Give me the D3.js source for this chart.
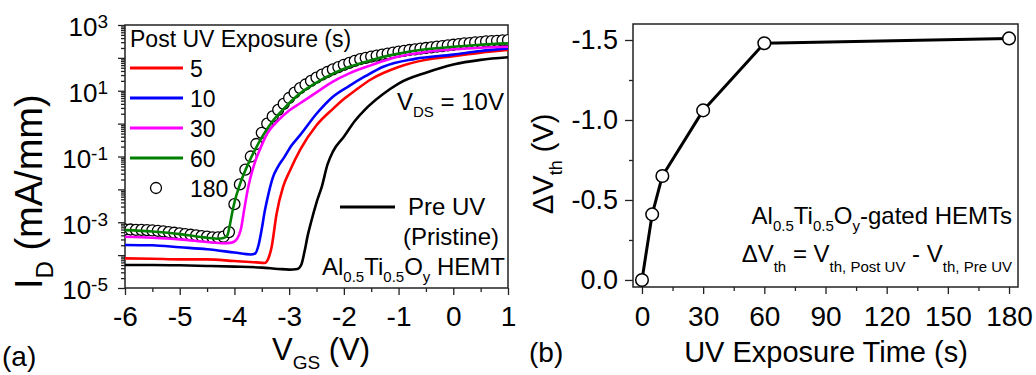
<!DOCTYPE html>
<html><head><meta charset="utf-8">
<script src="https://cdn.jsdelivr.net/npm/d3@7"></script>
<style>
body{margin:0;background:#fff}
svg text{font-family:"Liberation Sans",Arial,Helvetica,sans-serif;fill:#000}
</style>
</head><body>
<svg id="chart" width="1036" height="375" font-family="Liberation Sans, Arial, sans-serif"></svg>
<script>
// ---------- Panel (a): transfer curves, log10(I_D [mA/mm]) vs V_GS ----------
const vPre  = [-6,-5.5,-5,-4.5,-4,-3.5,-3.2,-3.0,-2.85,-2.78,-2.72,-2.66,-2.6,-2.5,-2.4,-2.3,-2.2,-2.0,-1.8,-1.6,-1.3,-1.0,-0.5,0,0.5,1.0];
const logPre= [-4.30,-4.30,-4.31,-4.33,-4.35,-4.38,-4.42,-4.44,-4.42,-4.30,-3.90,-3.40,-3.00,-2.40,-1.90,-1.25,-0.85,-0.40,0.08,0.45,0.88,1.22,1.55,1.80,1.94,2.02];

const v5    = [-6,-5.5,-5,-4.5,-4,-3.6,-3.45,-3.38,-3.32,-3.23,-3.11,-2.98,-2.8,-2.5,-2.2,-2.0,-1.8,-1.5,-1.0,-0.5,0,0.5,1.0];
const log5  = [-4.10,-4.11,-4.13,-4.13,-4.18,-4.22,-4.24,-4.10,-3.75,-2.75,-1.92,-1.41,-0.80,-0.05,0.45,0.75,1.00,1.35,1.72,1.94,2.05,2.16,2.24];

const v10   = [-6,-5.5,-5,-4.5,-4,-3.7,-3.62,-3.56,-3.5,-3.45,-3.4,-3.3,-3.2,-3.1,-2.95,-2.8,-2.5,-2.2,-1.9,-1.6,-1.28,-0.7,0,0.5,1.0];
const log10_= [-3.69,-3.70,-3.76,-3.82,-3.92,-3.98,-3.95,-3.70,-3.20,-2.70,-2.30,-1.65,-1.30,-1.05,-0.65,-0.35,0.30,0.82,1.15,1.45,1.73,1.97,2.10,2.21,2.29];

const v30   = [-6,-5.5,-5,-4.5,-4.2,-4.05,-3.95,-3.88,-3.82,-3.75,-3.65,-3.55,-3.4,-3.2,-3.0,-2.8,-2.5,-2.2,-1.9,-1.5,-1.0,-0.5,0,0.5,1.0];
const log30 = [-3.44,-3.47,-3.52,-3.60,-3.64,-3.62,-3.50,-3.20,-2.60,-1.95,-1.30,-0.85,-0.30,0.10,0.40,0.62,0.95,1.28,1.53,1.78,2.04,2.18,2.26,2.31,2.34];

const v60   = [-6,-5.5,-5,-4.5,-4.3,-4.2,-4.13,-4.08,-4.04,-4.0,-3.9,-3.8,-3.7,-3.6,-3.5,-3.3,-3.1,-2.8,-2.5,-2.2,-1.9,-1.5,-1.0,-0.5,0,0.5,1.0];
const log60 = [-3.24,-3.28,-3.36,-3.47,-3.50,-3.48,-3.40,-3.05,-2.70,-2.40,-1.85,-1.42,-1.05,-0.72,-0.42,0.08,0.45,0.92,1.25,1.52,1.73,1.93,2.13,2.26,2.34,2.40,2.44];

const v180  = [-6.0,-5.9,-5.8,-5.7,-5.6,-5.5,-5.4,-5.3,-5.2,-5.1,-5.0,-4.9,-4.8,-4.7,-4.6,-4.5,-4.4,-4.3,-4.2,-4.1,-4.0,-3.9,-3.8,-3.7,-3.6,-3.5,-3.4,-3.3,-3.2,-3.1,-3.0,-2.9,-2.8,-2.7,-2.6,-2.5,-2.4,-2.3,-2.2,-2.1,-2.0,-1.9,-1.8,-1.7,-1.6,-1.5,-1.4,-1.3,-1.2,-1.1,-1.0,-0.9,-0.8,-0.7,-0.6,-0.5,-0.4,-0.3,-0.2,-0.1,0.0,0.1,0.2,0.3,0.4,0.5,0.6,0.7,0.8,0.9,1.0];
const log180= [-3.22,-3.22,-3.23,-3.23,-3.24,-3.25,-3.26,-3.28,-3.30,-3.32,-3.34,-3.36,-3.38,-3.40,-3.42,-3.44,-3.46,-3.46,-3.44,-3.30,-2.45,-1.85,-1.40,-1.00,-0.62,-0.28,0.00,0.22,0.42,0.60,0.78,0.94,1.08,1.19,1.30,1.40,1.49,1.57,1.65,1.72,1.79,1.85,1.91,1.96,2.00,2.04,2.07,2.10,2.13,2.16,2.19,2.21,2.24,2.26,2.28,2.30,2.32,2.34,2.36,2.38,2.40,2.42,2.44,2.45,2.47,2.48,2.50,2.51,2.52,2.53,2.54];

const legendLabels = ["5","10","30","60","180"];
const seriesColors = ["#ff0000","#0000ff","#ff00ff","#008000"];

const xTicksA = [-6,-5,-4,-3,-2,-1,0,1];
const xMinorA = [-5.5,-4.5,-3.5,-2.5,-1.5,-0.5,0.5];
const yExpA   = [-5,-4,-3,-2,-1,0,1,2,3];
const yLabelExpA = [3,1,-1,-3,-5];

// ---------- Panel (b): threshold-voltage shift ----------
const uvTime = [0,5,10,30,60,180];
const dVth   = [0,-0.41,-0.65,-1.06,-1.48,-1.51];
const xTicksB = [0,30,60,90,120,150,180];
const xMinorB = [15,45,75,105,135,165];
const yTicksB = [0,-0.5,-1.0,-1.5];
const yMinorB = [-0.25,-0.75,-1.25];

// ================================================================
const svg = d3.select("#chart");
const FONT = '"Liberation Sans",Arial,sans-serif';

function rich(parent, x, y, parts, o) {
  const t = parent.append("text").attr("x", x).attr("y", y)
    .attr("font-size", o.size).attr("text-anchor", o.anchor || "start");
  if (o.rotate) t.attr("transform", `rotate(-90,${x},${y})`);
  let cur = 0;
  parts.forEach(([s, kind]) => {
    const sp = t.append("tspan").text(s);
    const off = kind === "sub" ? o.subDy : kind === "sup" ? -o.supDy : 0;
    sp.attr("dy", off - cur); cur = off;
    if (kind !== "n") sp.attr("font-size", o.small);
  });
  return t;
}

// ---------------- Panel (a) ----------------
const xA = d3.scaleLinear().domain([-6, 1]).range([125, 508]);
const yA = d3.scaleLog().domain([1e-5, 1e3]).range([288, 25]);
const gA = svg.append("g");

const axBA = gA.append("g").attr("transform", "translate(0,288)")
  .call(d3.axisBottom(xA).tickValues(xTicksA).tickSize(7).tickPadding(11).tickFormat(d => String(d)));
gA.append("g").attr("transform", "translate(0,288)")
  .call(d3.axisBottom(xA).tickValues(xMinorA).tickSize(4).tickFormat(""));
axBA.selectAll("text").attr("font-size", 28).attr("font-family", FONT);

const minorLog = [];
for (let e = -5; e < 3; e++) for (let m = 2; m <= 9; m++) minorLog.push(m * Math.pow(10, e));
gA.append("g").attr("transform", "translate(125,0)")
  .call(d3.axisLeft(yA).tickValues(minorLog).tickSize(4).tickFormat(""));
const axLA = gA.append("g").attr("transform", "translate(125,0)")
  .call(d3.axisLeft(yA).tickValues(yExpA.map(e => Math.pow(10, e))).tickSize(7).tickPadding(10).tickFormat(""));
axLA.selectAll(".tick").each(function(d) {
  const e = Math.round(Math.log10(d));
  if (!yLabelExpA.includes(e)) return;
  const t = d3.select(this).select("text").attr("font-size", 26).attr("font-family", FONT).attr("dy", "0.42em");
  t.text(null);
  t.append("tspan").text("10");
  t.append("tspan").text(String(e)).attr("font-size", 19).attr("dy", "-0.42em");
});
gA.selectAll(".tick line").attr("stroke", "#222").attr("stroke-width", 1.3);
gA.selectAll(".domain").remove();

gA.append("rect").attr("x", 125).attr("y", 25).attr("width", 383).attr("height", 263)
  .attr("fill", "none").attr("stroke", "#222").attr("stroke-width", 1.5);

const lineA = (vs, ls) => d3.line().curve(d3.curveMonotoneX)
  .x((d, i) => xA(vs[i])).y((d, i) => yA(Math.pow(10, ls[i])))(vs);

svg.append("defs").append("clipPath").attr("id", "clipA")
  .append("rect").attr("x", 125).attr("y", 25).attr("width", 383).attr("height", 263);
const plotA = gA.append("g").attr("clip-path", "url(#clipA)");

plotA.selectAll("circle.c180").data(v180).join("circle").attr("class", "c180")
  .attr("cx", (d) => xA(d)).attr("cy", (d, i) => yA(Math.pow(10, log180[i])))
  .attr("r", 5.5).attr("fill", "#fff").attr("stroke", "#000").attr("stroke-width", 1.3);

const seriesA = [
  [vPre, logPre, "#000"],
  [v5, log5, seriesColors[0]],
  [v10, log10_, seriesColors[1]],
  [v30, log30, seriesColors[2]],
  [v60, log60, seriesColors[3]],
];
seriesA.forEach(([vs, ls, c]) => {
  plotA.append("path").attr("d", lineA(vs, ls)).attr("fill", "none")
    .attr("stroke", c).attr("stroke-width", 2.6).attr("stroke-linejoin", "round");
});

gA.append("text").attr("x", 130).attr("y", 47).attr("font-size", 23).text("Post UV Exposure (s)");
const legY = [68, 98, 128, 158, 188];
legendLabels.forEach((lab, i) => {
  if (i < 4) {
    gA.append("line").attr("x1", 130).attr("x2", 183).attr("y1", legY[i]).attr("y2", legY[i])
      .attr("stroke", seriesColors[i]).attr("stroke-width", 3);
  } else {
    gA.append("circle").attr("cx", 156).attr("cy", legY[i]).attr("r", 5.5)
      .attr("fill", "#fff").attr("stroke", "#000").attr("stroke-width", 1.3);
  }
  gA.append("text").attr("x", 190).attr("y", legY[i] + 8.5).attr("font-size", 23).text(lab);
});
gA.append("line").attr("x1", 340).attr("x2", 395).attr("y1", 207).attr("y2", 207)
  .attr("stroke", "#000").attr("stroke-width", 3);
gA.append("text").attr("x", 408).attr("y", 215).attr("font-size", 24).text("Pre UV");
gA.append("text").attr("x", 403).attr("y", 245).attr("font-size", 24).text("(Pristine)");
rich(gA, 322, 275, [["Al","n"],["0.5","sub"],["Ti","n"],["0.5","sub"],["O","n"],["y","sub"],[" HEMT","n"]],
  {size: 24, small: 15, subDy: 7});
rich(gA, 397, 110, [["V","n"],["DS","sub"],[" = 10V","n"]], {size: 24, small: 15, subDy: 7});

rich(gA, 272, 360, [["V","n"],["GS","sub"],[" (V)","n"]], {size: 31, small: 19, subDy: 9});
rich(gA, 42, 289, [["I","n"],["D","sub"],[" (mA/mm)","n"]], {size: 38, small: 24, subDy: 11, rotate: true});
svg.append("text").attr("x", 2).attr("y", 366).attr("font-size", 28).text("(a)");

// ---------------- Panel (b) ----------------
const xB = d3.scaleLinear().domain([-4.4, 184.4]).range([633, 1018]);
const yB = d3.scaleLinear().domain([0.044, -1.6]).range([287, 24]);
const gB = svg.append("g");

const axBB = gB.append("g").attr("transform", "translate(0,287)")
  .call(d3.axisBottom(xB).tickValues(xTicksB).tickSize(7).tickPadding(12).tickFormat(d => String(d)));
gB.append("g").attr("transform", "translate(0,287)")
  .call(d3.axisBottom(xB).tickValues(xMinorB).tickSize(4).tickFormat(""));
axBB.selectAll("text").attr("font-size", 28).attr("font-family", FONT);
const axLB = gB.append("g").attr("transform", "translate(633,0)")
  .call(d3.axisLeft(yB).tickValues(yTicksB).tickSize(8).tickPadding(7).tickFormat(d => d3.format(".1f")(d).replace("\u2212", "-")));
gB.append("g").attr("transform", "translate(633,0)")
  .call(d3.axisLeft(yB).tickValues(yMinorB).tickSize(4).tickFormat(""));
axLB.selectAll("text").attr("font-size", 27).attr("font-family", FONT);
gB.selectAll(".domain").remove();
gB.selectAll(".tick line").attr("stroke", "#222").attr("stroke-width", 1.3);

gB.append("rect").attr("x", 633).attr("y", 24).attr("width", 385).attr("height", 263)
  .attr("fill", "none").attr("stroke", "#222").attr("stroke-width", 1.5);

gB.append("path").attr("d", d3.line().x((d, i) => xB(uvTime[i])).y((d, i) => yB(dVth[i]))(uvTime))
  .attr("fill", "none").attr("stroke", "#000").attr("stroke-width", 3).attr("stroke-linejoin", "round");
gB.selectAll("circle.pt").data(uvTime).join("circle").attr("class", "pt")
  .attr("cx", d => xB(d)).attr("cy", (d, i) => yB(dVth[i])).attr("r", 6.3)
  .attr("fill", "#fff").attr("stroke", "#000").attr("stroke-width", 1.5);

rich(gB, 1012, 224, [["Al","n"],["0.5","sub"],["Ti","n"],["0.5","sub"],["O","n"],["y","sub"],["-gated HEMTs","n"]],
  {size: 24, small: 15, subDy: 7, anchor: "end"});
rich(gB, 1012, 262, [["\u0394V","n"],["th","sub"],[" = V","n"],["th, Post UV","sub"],[" - V","n"],["th, Pre UV","sub"]],
  {size: 24, small: 15, subDy: 10, anchor: "end"});

gB.append("text").attr("x", 826).attr("y", 362).attr("font-size", 29).attr("text-anchor", "middle").text("UV Exposure Time (s)");
rich(gB, 553, 214, [["\u0394V","n"],["th","sub"],[" (V)","n"]], {size: 29, small: 18, subDy: 9, rotate: true});
svg.append("text").attr("x", 529).attr("y", 362).attr("font-size", 28).text("(b)");
</script>
</body></html>
